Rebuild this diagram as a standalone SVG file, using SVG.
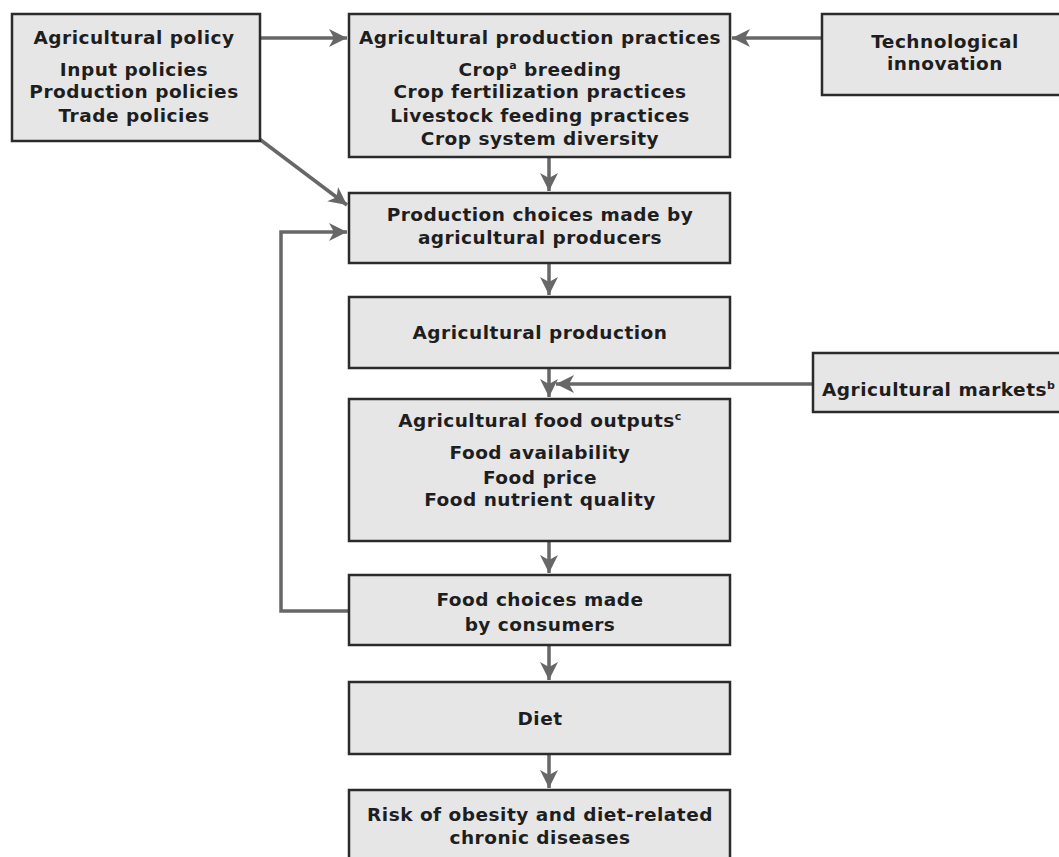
<svg xmlns="http://www.w3.org/2000/svg" width="1059" height="857" viewBox="0 0 1059 857">
<style>
.box{fill:#e6e6e6;stroke:#2b2b2b;stroke-width:2.5}
.t{font-family:"DejaVu Sans","Liberation Sans",sans-serif;font-weight:bold;font-size:18.5px;letter-spacing:0.5px;fill:#1e1e1e;text-anchor:middle}
.c{fill:none;stroke:#676767;stroke-width:3.5}
.sup{font-size:11px}
</style>
<defs>
<marker id="ah" markerUnits="userSpaceOnUse" markerWidth="22" markerHeight="20" refX="18" refY="10" orient="auto">
<path d="M0,1 L18,10 L0,19 L5,10 Z" fill="#676767"/>
</marker>
</defs>
<rect width="1059" height="857" fill="#fff"/>
<g id="connectors">
<line class="c" x1="260" y1="38" x2="347" y2="38" marker-end="url(#ah)"/>
<line class="c" x1="822" y1="38" x2="732" y2="38" marker-end="url(#ah)"/>
<line class="c" x1="258" y1="138" x2="347" y2="205" marker-end="url(#ah)"/>
<line class="c" x1="549" y1="157" x2="549" y2="191" marker-end="url(#ah)"/>
<line class="c" x1="549" y1="263" x2="549" y2="295" marker-end="url(#ah)"/>
<line class="c" x1="549" y1="368" x2="549" y2="397" marker-end="url(#ah)"/>
<line class="c" x1="813" y1="384" x2="556" y2="384" marker-end="url(#ah)"/>
<line class="c" x1="549" y1="541" x2="549" y2="573" marker-end="url(#ah)"/>
<line class="c" x1="549" y1="645" x2="549" y2="680" marker-end="url(#ah)"/>
<line class="c" x1="549" y1="754" x2="549" y2="788" marker-end="url(#ah)"/>
<polyline class="c" points="349,611 281,611 281,232 347,232" marker-end="url(#ah)"/>
</g>
<g id="agricultural-policy">
<rect class="box" x="12" y="14" width="248" height="127"/>
<text class="t" x="134" y="44">Agricultural policy</text>
<text class="t" x="134" y="76">Input policies</text>
<text class="t" x="134" y="98">Production policies</text>
<text class="t" x="134" y="122">Trade policies</text>
</g>
<g id="production-practices">
<rect class="box" x="349" y="14" width="381" height="143"/>
<text class="t" x="540" y="44">Agricultural production practices</text>
<text class="t" x="540" y="76">Crop<tspan class="sup" dy="-7">a</tspan><tspan dy="7"> breeding</tspan></text>
<text class="t" x="540" y="98">Crop fertilization practices</text>
<text class="t" x="540" y="122">Livestock feeding practices</text>
<text class="t" x="540" y="145">Crop system diversity</text>
</g>
<g id="technological-innovation">
<rect class="box" x="822" y="14" width="246" height="81"/>
<text class="t" x="945" y="48">Technological</text>
<text class="t" x="945" y="70">innovation</text>
</g>
<g id="production-choices">
<rect class="box" x="349" y="193" width="381" height="70"/>
<text class="t" x="540" y="221">Production choices made by</text>
<text class="t" x="540" y="244">agricultural producers</text>
</g>
<g id="agricultural-production">
<rect class="box" x="349" y="297" width="381" height="71"/>
<text class="t" x="540" y="339">Agricultural production</text>
</g>
<g id="agricultural-markets">
<rect class="box" x="813" y="353" width="260" height="59"/>
<text class="t" x="822" y="396" style="text-anchor:start">Agricultural markets<tspan class="sup" dy="-7">b</tspan></text>
</g>
<g id="food-outputs">
<rect class="box" x="349" y="399" width="381" height="142"/>
<text class="t" x="540" y="427">Agricultural food outputs<tspan class="sup" dy="-7">c</tspan></text>
<text class="t" x="540" y="459">Food availability</text>
<text class="t" x="540" y="484">Food price</text>
<text class="t" x="540" y="506">Food nutrient quality</text>
</g>
<g id="food-choices">
<rect class="box" x="349" y="575" width="381" height="70"/>
<text class="t" x="540" y="606">Food choices made</text>
<text class="t" x="540" y="631">by consumers</text>
</g>
<g id="diet">
<rect class="box" x="349" y="682" width="381" height="72"/>
<text class="t" x="540" y="725">Diet</text>
</g>
<g id="risk">
<rect class="box" x="349" y="790" width="381" height="80"/>
<text class="t" x="540" y="821">Risk of obesity and diet-related</text>
<text class="t" x="540" y="844">chronic diseases</text>
</g>
</svg>
